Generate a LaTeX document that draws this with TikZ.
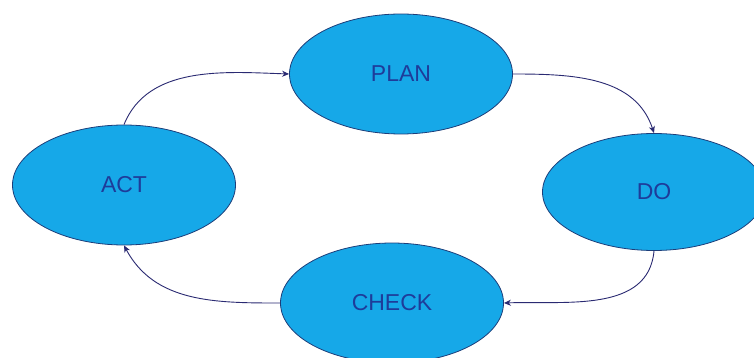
\documentclass[tikz,border=0pt]{standalone}
\usepackage{fontspec}
\setmainfont{Liberation Sans}
\usetikzlibrary{shapes.geometric,arrows.meta}
\definecolor{ellfill}{HTML}{16A8E8}
\definecolor{ellline}{HTML}{1C3E7A}
\definecolor{txtblue}{HTML}{1E3C9A}
\definecolor{arrcol}{HTML}{2A2A72}
\begin{document}
\begin{tikzpicture}[x=1pt,y=-1pt,
  phase/.style={ellipse,draw=ellline,line width=0.8pt,fill=ellfill,inner sep=0pt,
    minimum width=223pt,minimum height=120pt,text=txtblue,font=\fontsize{23}{26}\selectfont},
  flow/.style={draw=arrcol,line width=0.9pt,-{Stealth[length=7pt,width=6pt]}}]
\clip (0,0) rectangle (754,358);
\fill[white] (0,0) rectangle (754,358);
\node[phase] (plan) at (401,74) {PLAN};
\node[phase] (act) at (124,185) {ACT};
\node[phase,minimum height=117pt] (do) at (654,192) {DO};
\node[phase] (check) at (392,303) {CHECK};
\draw[flow] (act.north) to[out=68,in=178,looseness=0.95] (plan.west);
\draw[flow] (plan.east) to[out=0,in=108,looseness=1] (do.north);
\draw[flow] (do.south) to[out=-95,in=2,looseness=1] (check.east);
\draw[flow] (check.west) to[out=180,in=-62,looseness=1] (act.south);
\end{tikzpicture}
\end{document}
